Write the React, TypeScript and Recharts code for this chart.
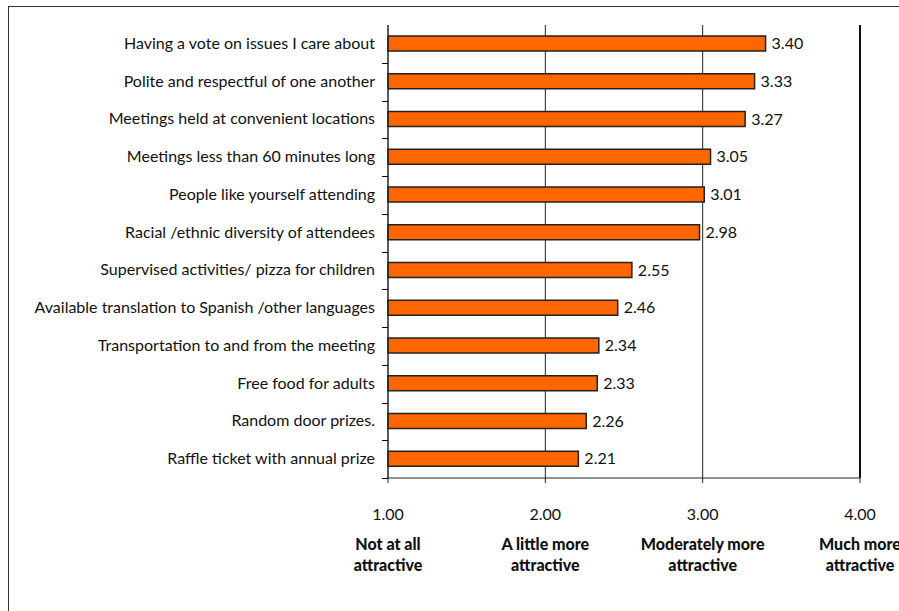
import {
  Bar,
  BarChart,
  CartesianGrid,
  LabelList,
  ReferenceLine,
  XAxis,
  YAxis,
} from "recharts";

const FEATURES = [
  "Having a vote on issues I care about",
  "Polite and respectful of one another",
  "Meetings held at convenient locations",
  "Meetings less than 60 minutes long",
  "People like yourself attending",
  "Racial /ethnic diversity of attendees",
  "Supervised activities/ pizza for children",
  "Available translation to Spanish /other languages",
  "Transportation to and from the meeting",
  "Free food for adults",
  "Random door prizes.",
  "Raffle ticket with annual prize",
];
const SCORES = [3.4, 3.33, 3.27, 3.05, 3.01, 2.98, 2.55, 2.46, 2.34, 2.33, 2.26, 2.21];
const SCALE_TICKS = [1, 2, 3, 4];
const SCALE_LABELS = [
  ["Not at all", "attractive"],
  ["A little more", "attractive"],
  ["Moderately more", "attractive"],
  ["Much more", "attractive"],
];

const W = 899;
const H = 611;
const TOP = 25;
const BOTTOM = 133;
const BAND = (H - TOP - BOTTOM) / FEATURES.length;
const FONT = "Lato, sans-serif";
const ORANGE = "#ff6600";

const data = FEATURES.map((name, i) => ({ name, score: SCORES[i] }));

// category label + an Excel-style tick mark on the band boundary below it
function FeatureTick({ x, y, payload }: any) {
  const ty = Math.round(y + BAND / 2) + 0.5;
  return (
    <g>
      <line x1={x - 6} x2={x} y1={ty} y2={ty} stroke="#000" strokeWidth={1} />
      <text x={x - 13} y={y} dy={5} textAnchor="end" fontSize={16} fill="#111" fontFamily={FONT}>
        {payload.value}
      </text>
    </g>
  );
}

function ScaleTick({ x, y, payload, index }: any) {
  const [a, b] = SCALE_LABELS[index] ?? ["", ""];
  return (
    <g fontFamily={FONT} textAnchor="middle" fill="#111">
      <text x={x} y={y} dy={37} fontSize={16}>
        {payload.value.toFixed(2)}
      </text>
      <text x={x} y={y} dy={67} fontSize={16} fontWeight={900}>
        {a}
      </text>
      <text x={x} y={y} dy={88} fontSize={16} fontWeight={900}>
        {b}
      </text>
    </g>
  );
}

export default function App() {
  return (
    <div style={{ position: "fixed", left: 0, top: 0, width: W, height: H, overflow: "hidden", background: "#fff" }}>
      <div
        style={{
          position: "absolute",
          left: 8,
          top: 6,
          width: W,
          height: H,
          borderLeft: "1px solid #333",
          borderTop: "1px solid #333",
        }}
      />
      <div style={{ position: "absolute", left: 0, top: 0 }}>
        <BarChart
          width={W}
          height={H}
          data={data}
          layout="vertical"
          margin={{ top: TOP, right: 39, left: 8, bottom: BOTTOM - 40 }}
          barSize={15}
        >
          <CartesianGrid horizontal={false} stroke="#222" />
          <XAxis
            type="number"
            domain={[1, 4]}
            ticks={SCALE_TICKS}
            height={40}
            tickSize={5}
            tickMargin={0}
            stroke="#222"
            tick={<ScaleTick />}
            interval={0}
          />
          <YAxis
            type="category"
            dataKey="name"
            width={380}
            tickLine={false}
            tickSize={0}
            tickMargin={0}
            stroke="#222"
            tick={<FeatureTick />}
            interval={0}
          />
          <ReferenceLine x={4} stroke="#111" strokeWidth={2} />
          <Bar dataKey="score" fill={ORANGE} stroke="#222" strokeWidth={1.5} isAnimationActive={false}>
            <LabelList
              dataKey="score"
              position="right"
              offset={6}
              formatter={(v: any) => Number(v).toFixed(2)}
              style={{ fontSize: 16, fill: "#111", fontFamily: FONT }}
            />
          </Bar>
        </BarChart>
      </div>
    </div>
  );
}
